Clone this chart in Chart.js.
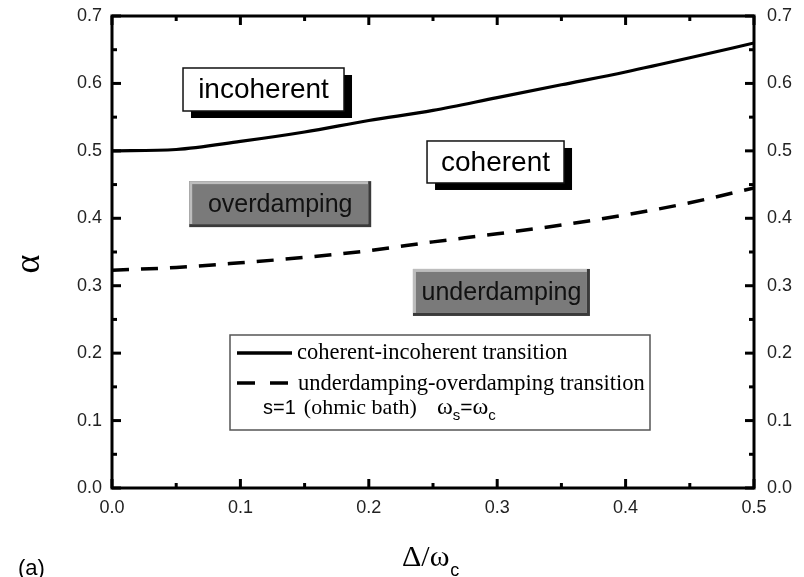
<!DOCTYPE html>
<html>
<head>
<meta charset="utf-8">
<title>alpha vs Delta/omega_c</title>
<script src="https://cdn.jsdelivr.net/npm/chart.js@4.4.0/dist/chart.umd.min.js"></script>
<style>
  html, body { margin: 0; padding: 0; background: #fff; }
  canvas { display: block; }
</style>
</head>
<body>
<canvas id="phaseChart" width="804" height="577"></canvas>
<script>
// values
const deltaOverOmega = [0, 0.05, 0.1, 0.15, 0.2, 0.25, 0.3, 0.35, 0.4, 0.45, 0.5];
const coherentIncoherent = [0.500, 0.502, 0.514, 0.528, 0.545, 0.560, 0.579, 0.598, 0.617, 0.638, 0.660];
const underOverdamping = [0.323, 0.327, 0.334, 0.342, 0.352, 0.365, 0.377, 0.390, 0.405, 0.423, 0.445];

const xTickValues = [0, 0.1, 0.2, 0.3, 0.4, 0.5];
const yTickValues = [0, 0.1, 0.2, 0.3, 0.4, 0.5, 0.6, 0.7];

const regionNames = ['incoherent', 'coherent', 'overdamping', 'underdamping'];
const legendNames = ['coherent-incoherent transition', 'underdamping-overdamping transition'];

const SANS = '"Liberation Sans", Arial, Helvetica, sans-serif';
const SERIF = '"Liberation Serif", "Times New Roman", serif';

function toPoints(ys) {
    return deltaOverOmega.map((x, i) => ({ x: x, y: ys[i] }));
}

function fixedTicks(vals) {
    return (scale) => { scale.ticks = vals.map(v => ({ value: v })); };
}

// fixed axis box sizes so the plot area lands where the figure has it
function fixWidth(w) {
    return (s) => { s.width = w; s.paddingTop = 0; s.paddingBottom = 0; };
}

// frame, inward ticks (major + minor) on all four sides
const frameAndTicks = {
    id: 'frameAndTicks',
    afterDatasetsDraw(chart) {
        const { ctx, chartArea: a, scales } = chart;
        const sx = scales.x, sy = scales.y;
        ctx.save();
        ctx.strokeStyle = '#000';
        ctx.lineWidth = 3;
        ctx.lineCap = 'butt';
        ctx.strokeRect(a.left, a.top, a.right - a.left, a.bottom - a.top);

        const line = (x1, y1, x2, y2) => {
            ctx.beginPath(); ctx.moveTo(x1, y1); ctx.lineTo(x2, y2); ctx.stroke();
        };
        const minors = (vals) => vals.slice(1).map((v, i) => (v + vals[i]) / 2);

        const xTicks = [[xTickValues, 9], [minors(xTickValues), 5]];
        xTicks.forEach(([vals, len]) => {
            vals.forEach(v => {
                const px = sx.getPixelForValue(v);
                line(px, a.bottom, px, a.bottom - len);
                line(px, a.top, px, a.top + len);
            });
        });
        const yTicks = [[yTickValues, 9], [minors(yTickValues), 5]];
        yTicks.forEach(([vals, len]) => {
            vals.forEach(v => {
                const py = sy.getPixelForValue(v);
                line(a.left, py, a.left + len, py);
                line(a.right, py, a.right - len, py);
            });
        });
        ctx.restore();
    }
};

// region labels, legend box and axis titles
const annotations = {
    id: 'annotations',
    afterDraw(chart) {
        const { ctx, scales } = chart;
        const sx = scales.x, sy = scales.y;
        ctx.save();

        // white boxes with black drop shadow
        const whiteBox = (text, cx, cy, w, h) => {
            const px = sx.getPixelForValue(cx), py = sy.getPixelForValue(cy);
            const l = px - w / 2, t = py - h / 2;
            ctx.fillStyle = '#000';
            ctx.fillRect(l + 8, t + 7, w, h);
            ctx.fillStyle = '#fff';
            ctx.fillRect(l, t, w, h);
            ctx.strokeStyle = '#111';
            ctx.lineWidth = 1.5;
            ctx.strokeRect(l, t, w, h);
            ctx.fillStyle = '#000';
            ctx.font = '28px ' + SANS;
            ctx.textAlign = 'center';
            ctx.textBaseline = 'middle';
            ctx.fillText(text, px, py + 1);
        };
        // grey bevelled boxes
        const greyBox = (text, cx, cy, w, h) => {
            const px = sx.getPixelForValue(cx), py = sy.getPixelForValue(cy);
            const l = px - w / 2, t = py - h / 2;
            ctx.fillStyle = '#3a3a3a';
            ctx.fillRect(l, t, w, h);
            ctx.fillStyle = '#bdbdbd';
            ctx.fillRect(l, t, w - 3, h - 3);
            ctx.fillStyle = '#7a7a7a';
            ctx.fillRect(l + 3, t + 3, w - 6, h - 6);
            ctx.fillStyle = '#111';
            ctx.font = '25px ' + SANS;
            ctx.textAlign = 'center';
            ctx.textBaseline = 'middle';
            ctx.fillText(text, px, py + 1);
        };
        whiteBox(regionNames[0], 0.118, 0.591, 161, 43);
        whiteBox(regionNames[1], 0.2987, 0.4835, 137, 42);
        greyBox(regionNames[2], 0.1310, 0.421, 182, 46);
        greyBox(regionNames[3], 0.3033, 0.290, 177, 47);

        // legend
        ctx.strokeStyle = '#555';
        ctx.lineWidth = 1.5;
        ctx.strokeRect(230, 335, 420, 95);
        ctx.strokeStyle = '#000';
        ctx.lineWidth = 3.5;
        ctx.beginPath(); ctx.moveTo(237, 353); ctx.lineTo(292, 353); ctx.stroke();
        ctx.setLineDash([18, 15]);
        ctx.beginPath(); ctx.moveTo(237, 383); ctx.lineTo(292, 383); ctx.stroke();
        ctx.setLineDash([]);
        ctx.fillStyle = '#000';
        ctx.textAlign = 'left';
        ctx.textBaseline = 'middle';
        ctx.font = '22.5px ' + SERIF;
        ctx.fillText(legendNames[0], 297, 353);
        ctx.fillText(legendNames[1], 298, 384);

        let x = 263;
        const put = (txt, font, dy) => {
            ctx.font = font;
            ctx.fillText(txt, x, 408 + dy);
            x += ctx.measureText(txt).width;
        };
        put('s=1', '20px ' + SANS, 0);
        x += 8;
        put('(ohmic bath)', '22px ' + SERIF, 0);
        x = 437;
        put('\u03c9', '24px ' + SERIF, 0);
        put('s', '15px ' + SANS, 8);
        put('=', '21px ' + SANS, 0);
        put('\u03c9', '24px ' + SERIF, 0);
        put('c', '15px ' + SANS, 8);

        // axis titles
        ctx.font = '36px ' + SERIF;
        ctx.textAlign = 'center';
        ctx.save();
        ctx.translate(30, 264);
        ctx.rotate(-Math.PI / 2);
        ctx.fillText('\u03b1', 0, 0);
        ctx.restore();

        ctx.textAlign = 'left';
        ctx.textBaseline = 'alphabetic';
        ctx.font = '30px ' + SERIF;
        ctx.fillText('\u0394/\u03c9', 402, 566);
        const wTitle = ctx.measureText('\u0394/\u03c9').width;
        ctx.font = '18px ' + SANS;
        ctx.fillText('c', 402 + wTitle + 1, 576);

        ctx.font = '22px ' + SANS;
        ctx.fillText('(a)', 18, 575);
        ctx.restore();
    }
};

const tickFont = { family: SANS, size: 18 };
const tickColor = '#222';
const noGrid = { display: false, drawTicks: false };

new Chart(document.getElementById('phaseChart'), {
    type: 'line',
    data: {
        datasets: [{
            label: legendNames[0],
            data: toPoints(coherentIncoherent),
            borderColor: '#000',
            borderWidth: 3.2,
            pointRadius: 0,
            cubicInterpolationMode: 'monotone',
            fill: false
        }, {
            label: legendNames[1],
            data: toPoints(underOverdamping),
            borderColor: '#000',
            borderWidth: 3.5,
            borderDash: [17, 12],
            pointRadius: 0,
            cubicInterpolationMode: 'monotone',
            fill: false
        }]
    },
    options: {
        responsive: false,
        animation: false,
        devicePixelRatio: 1,
        layout: { padding: { top: 16, left: 0, right: 0, bottom: 0 } },
        plugins: {
            legend: { display: false },
            tooltip: { enabled: false }
        },
        scales: {
            x: {
                type: 'linear', position: 'bottom', min: 0, max: 0.5,
                afterBuildTicks: fixedTicks(xTickValues),
                afterFit: (s) => { s.height = 89; },
                grid: noGrid,
                border: { display: false },
                ticks: { font: tickFont, color: tickColor, padding: 9, maxRotation: 0,
                         callback: v => v.toFixed(1) }
            },
            y: {
                type: 'linear', position: 'left', min: 0, max: 0.7,
                afterBuildTicks: fixedTicks(yTickValues),
                afterFit: fixWidth(112),
                grid: noGrid,
                border: { display: false },
                ticks: { font: tickFont, color: tickColor, padding: 10,
                         callback: v => v.toFixed(1) }
            },
            y2: {
                type: 'linear', position: 'right', min: 0, max: 0.7,
                afterBuildTicks: fixedTicks(yTickValues),
                afterFit: fixWidth(50),
                grid: noGrid,
                border: { display: false },
                ticks: { font: tickFont, color: tickColor, padding: 13,
                         callback: v => v.toFixed(1) }
            }
        }
    },
    plugins: [frameAndTicks, annotations]
});
</script>
</body>
</html>
